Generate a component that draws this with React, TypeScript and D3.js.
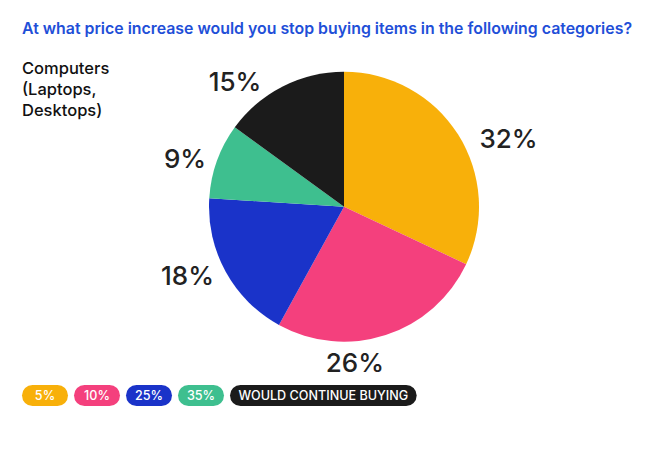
import React, { useEffect, useRef } from 'react'
import * as d3 from 'd3'

// data
const categories = ['5%', '10%', '25%', '35%', 'WOULD CONTINUE BUYING']
const shares = [32, 26, 18, 9, 15]
const colors = ['#F8B00A', '#F4407D', '#1A33C9', '#3EBF8F', '#1B1B1B']
const title = 'At what price increase would you stop buying items in the following categories?'
const subtitleLines = ['Computers', '(Laptops,', 'Desktops)']

// label placement tweaks (angle shift in degrees, radius) per slice
const labelAngleShift = [10, 14, 5, -3, -14]
const labelRadius = [178, 156, 171, 166, 166]

const W = 654
const H = 455
const FONT = 'Inter, "Noto Sans", sans-serif'

export default function App() {
  const svgRef = useRef<SVGSVGElement | null>(null)

  useEffect(() => {
    document.body.style.margin = '0'
    const svg = d3.select(svgRef.current)
      .attr('width', W)
      .attr('height', H)
      .attr('viewBox', [0, 0, W, H])
      .style('font-family', FONT)

    svg.selectAll('*').remove()

    svg.append('rect').attr('width', W).attr('height', H).attr('fill', '#fff')

    // title
    svg.append('text')
      .attr('x', 22)
      .attr('y', 34)
      .attr('fill', '#1F4FD8')
      .attr('font-size', 16)
      .attr('font-weight', 600)
      .text(title)
      .attr('textLength', 610)
      .attr('lengthAdjust', 'spacingAndGlyphs')

    // category name
    svg.append('g')
      .selectAll('text')
      .data(subtitleLines)
      .join('text')
      .attr('x', 22)
      .attr('y', (_, i) => 74 + i * 21)
      .attr('fill', '#111')
      .attr('font-size', 16.5)
      .attr('font-weight', 500)
      .text(d => d)

    // pie
    const cx = 344
    const cy = 206.7
    const r = 135
    const pie = d3.pie<number>().sort(null).value(d => d)
    const arcs = pie(shares)
    const arc = d3.arc<d3.PieArcDatum<number>>().innerRadius(0).outerRadius(r)

    const g = svg.append('g').attr('transform', `translate(${cx},${cy})`)
    g.selectAll('path')
      .data(arcs)
      .join('path')
      .attr('d', arc)
      .attr('fill', (_, i) => colors[i])

    g.selectAll('text')
      .data(arcs)
      .join('text')
      .attr('transform', (d, i) => {
        const a = (d.startAngle + d.endAngle) / 2 + (labelAngleShift[i] * Math.PI) / 180
        const lr = labelRadius[i]
        return `translate(${Math.sin(a) * lr},${-Math.cos(a) * lr})`
      })
      .attr('text-anchor', 'middle')
      .attr('dy', '0.36em')
      .attr('font-size', 26)
      .attr('font-weight', 500)
      .attr('fill', '#222')
      .text(d => `${d.data}%`)

    // legend pills
    const legend = svg.append('g').attr('transform', 'translate(22,385)')
    let xPos = 0
    categories.forEach((c, i) => {
      const item = legend.append('g').attr('transform', `translate(${xPos},0)`)
      const rect = item.append('rect')
        .attr('height', 21)
        .attr('rx', 10.5)
        .attr('fill', colors[i])
      const txt = item.append('text')
        .attr('y', 10.5)
        .attr('dy', '0.36em')
        .attr('text-anchor', 'middle')
        .attr('fill', '#fff')
        .attr('font-size', 12.6)
        .attr('font-weight', 500)
        .text(c)
      const tw = (txt.node() as SVGTextElement).getComputedTextLength()
      const w = Math.max(46, tw + 17)
      rect.attr('width', w)
      txt.attr('x', w / 2)
      xPos += w + 6
    })
  }, [])

  return <svg ref={svgRef}></svg>
}
